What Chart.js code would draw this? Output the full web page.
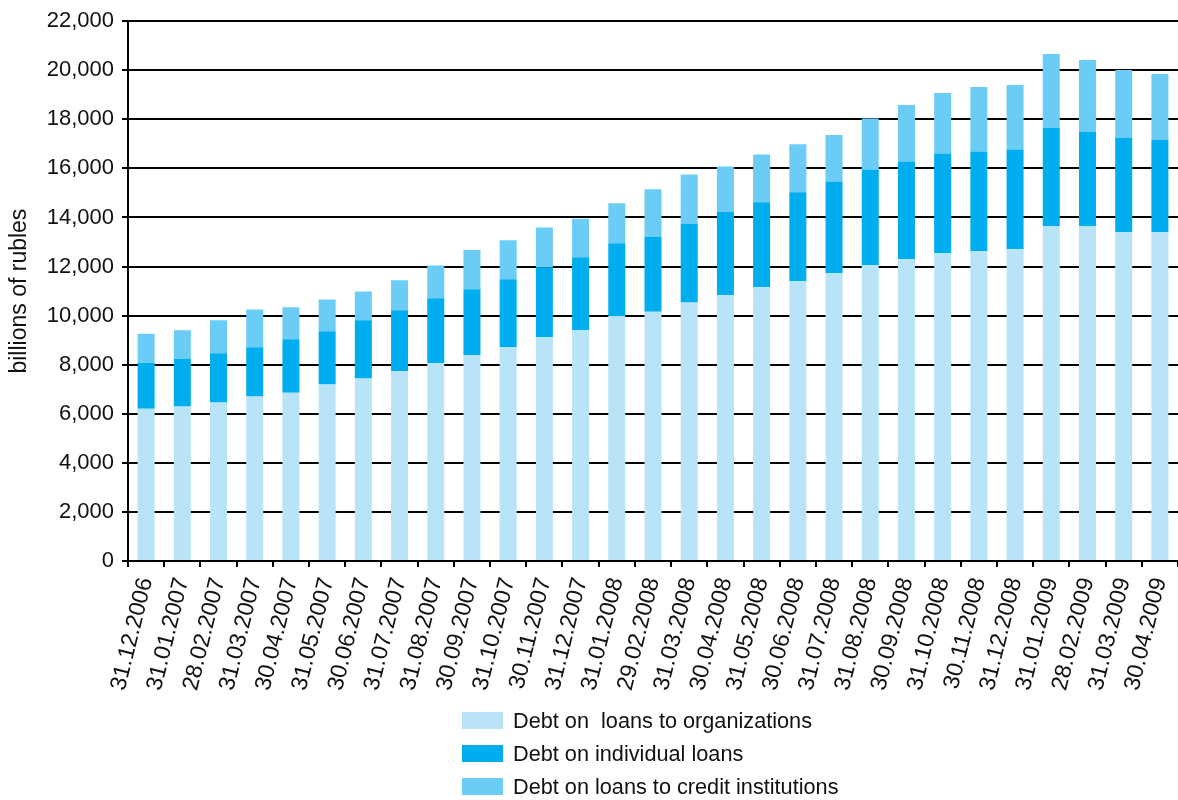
<!DOCTYPE html>
<html>
<head>
<meta charset="utf-8">
<script src="https://cdn.jsdelivr.net/npm/chart.js@4/dist/chart.umd.min.js"></script>
<style>
  html, body { margin: 0; padding: 0; background: #fff; }
  #wrap { position: relative; width: 1178px; height: 800px; overflow: hidden; }
  #legend { position: absolute; left: 462px; top: 704px; font-family: "Liberation Sans", Arial, sans-serif; font-size: 21.7px; color: #111; }
  .item { display: flex; align-items: center; height: 33px; white-space: pre; }
  .box { width: 41px; height: 17px; margin-right: 10px; flex: none; }
</style>
</head>
<body>
<div id="wrap">
  <canvas id="c" width="1178" height="800"></canvas>
  <div id="legend"></div>
</div>
<script>
const categories = ["31.12.2006","31.01.2007","28.02.2007","31.03.2007","30.04.2007","31.05.2007","30.06.2007","31.07.2007","31.08.2007","30.09.2007","31.10.2007","30.11.2007","31.12.2007","31.01.2008","29.02.2008","31.03.2008","30.04.2008","31.05.2008","30.06.2008","31.07.2008","31.08.2008","30.09.2008","31.10.2008","30.11.2008","31.12.2008","31.01.2009","28.02.2009","31.03.2009","30.04.2009"];
const seriesNames = ["Debt on  loans to organizations", "Debt on individual loans", "Debt on loans to credit institutions"];
const organizations = [6200,6300,6460,6700,6860,7190,7440,7740,8070,8395,8720,9130,9400,9990,10160,10540,10830,11160,11400,11730,12050,12300,12545,12625,12710,13650,13650,13400,13400];
const individuals = [1870,1930,2010,2015,2180,2170,2370,2480,2640,2680,2760,2840,2980,2960,3040,3190,3390,3465,3630,3740,3910,3985,4065,4065,4065,4000,3830,3840,3760];
const creditInstitutions = [1190,1170,1340,1540,1300,1300,1175,1220,1330,1595,1595,1620,1565,1635,1955,2025,1860,1945,1950,1890,2070,2300,2465,2630,2625,3015,2940,2775,2690];
const yTitle = "billions of rubles";
const colors = ["#B9E4F8", "#00ADEE", "#6BCDF5"];

const FONT = "'Liberation Sans', Arial, sans-serif";

const chart = new Chart(document.getElementById('c'), {
  type: 'bar',
  data: {
    labels: categories,
    datasets: [
      { label: seriesNames[0], data: organizations, backgroundColor: colors[0] },
      { label: seriesNames[1], data: individuals, backgroundColor: colors[1] },
      { label: seriesNames[2], data: creditInstitutions, backgroundColor: colors[2] }
    ]
  },
  options: {
    responsive: false,
    animation: false,
    layout: { padding: { left: 0, right: -4, top: 19, bottom: 100 } },
    datasets: { bar: { categoryPercentage: 1, barPercentage: 0.47 } },
    plugins: { legend: { display: false }, tooltip: { enabled: false } },
    scales: {
      x: {
        stacked: true,
        offset: true,
        grid: { display: true, drawOnChartArea: false, drawTicks: true, tickLength: 6, color: '#000', lineWidth: 2, offset: true },
        border: { display: true, color: '#000', width: 2 },
        ticks: { autoSkip: false, minRotation: 76, maxRotation: 76, padding: 8, color: '#111', font: { family: FONT, size: 23 } },
        afterFit: (s) => { s.height = 139; s.paddingRight = -4; s.paddingLeft = 0; }
      },
      y: {
        stacked: true,
        min: 0, max: 22000,
        ticks: { stepSize: 2000, padding: 8, color: '#111', font: { family: FONT, size: 22 } },
        grid: { color: '#000', lineWidth: 2, tickLength: 6 },
        border: { display: true, color: '#000', width: 2 },
        title: { display: true, text: yTitle, color: '#111', font: { family: FONT, size: 23 }, padding: { top: 6, bottom: 0 } },
        afterFit: (s) => { s.width = 128; s.paddingRight = -4; }
      }
    }
  }
});

const legendEl = document.getElementById('legend');
chart.data.datasets.forEach((ds) => {
  const item = document.createElement('div');
  item.className = 'item';
  const box = document.createElement('span');
  box.className = 'box';
  box.style.background = ds.backgroundColor;
  const txt = document.createElement('span');
  txt.textContent = ds.label;
  item.appendChild(box);
  item.appendChild(txt);
  legendEl.appendChild(item);
});
</script>
</body>
</html>
